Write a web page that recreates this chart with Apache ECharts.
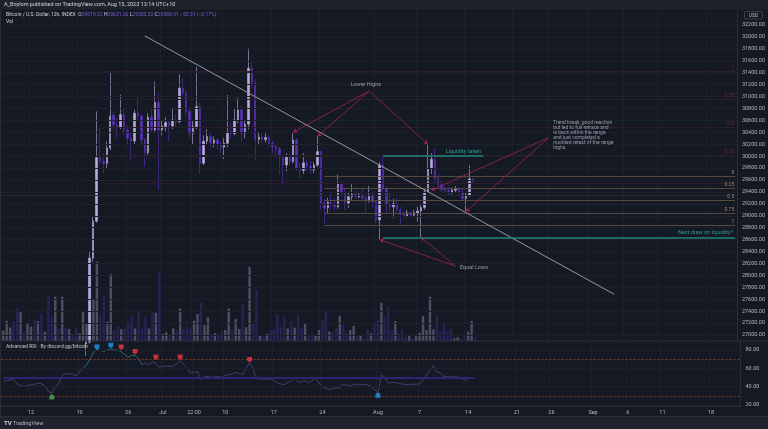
<!DOCTYPE html>
<html><head><meta charset="utf-8">
<script src="https://cdn.jsdelivr.net/npm/echarts@6/dist/echarts.min.js"></script>
<style>html,body{margin:0;padding:0;background:#151924;}#c{width:768px;height:429px;}</style>
</head><body><div id="c"></div>
<script>
// ---------- DATA ----------
// 12h candles (UTC) from 2023-06-08 00:00, [open, close, low, high]
const candles = [
[26500,26600,26300,26800],[26600,26650,26400,26780],[26650,26700,26550,26780],[26700,26500,26300,26790],
[26500,25700,25400,26550],[25700,25850,25600,25950],[25850,25780,25700,26000],[25780,25920,25750,26200],
[25920,25950,25750,26050],[25950,25900,25650,26000],[25900,26050,25850,26400],[26050,25900,25750,26150],
[25900,25950,25850,26100],[25950,25130,24900,26000],[25130,25050,24800,25250],[25050,25580,24950,25750],
[25580,25500,25350,25700],[25500,26330,25450,26470],[26330,26300,26200,26700],[26300,26510,26250,26750],
[26510,26480,26400,26650],[26480,26340,26250,26600],[26340,26500,26260,26600],[26500,26850,26450,26890],
[26850,26880,26650,26900],[26880,28290,26860,28400],[28290,28910,28230,28980],[28910,29975,28880,30750],
[29975,29910,29850,30470],[29910,29880,29713,30050],[29880,30138,29800,30250],[30138,30675,30100,31400],
[30690,30523,30450,30750],[30523,30480,30300,30650],[30480,30700,30450,31030],[30692,30440,30350,30800],
[30440,30300,30200,30520],[30300,30255,29920,30400],[30255,30720,30200,30780],[30720,30675,30600,31000],
[30675,30272,30200,30700],[30272,30060,29824,30300],[30060,30653,30020,30720],[30653,30440,30400,30800],
[30440,30898,30400,31250],[30898,30440,29433,31050],[30440,30507,30350,30600],[30496,30563,30420,30650],
[30563,30507,30250,30600],[30507,30608,30450,30800],[30608,30580,30500,30700],[30580,31139,30550,31374],
[31139,31055,31000,31300],[31055,30747,30650,31100],[30747,30384,30300,30800],[30384,30496,30200,30600],
[30496,30831,30450,31502],[30831,29881,29713,30900],[29881,30250,29850,30350],[30250,30328,30188,30450],
[30328,30220,30150,30380],[30220,30272,30150,30330],[30272,30188,30120,30300],[30188,30150,30050,30244],
[30150,30216,29950,30300],[30216,30395,30150,31027],[30395,30380,30300,30550],[30380,30608,30350,30800],
[30608,30775,30550,30980],[30775,30384,30250,30850],[30384,30536,30300,30600],[30536,31475,30450,31811],
[31475,31223,31150,31600],[31223,30280,29936,31300],[30280,30320,30200,30400],[30320,30280,30220,30380],
[30280,30311,30230,30380],[30311,30216,30150,30350],[30216,30160,30050,30260],[30160,30120,30000,30200],
[30120,29990,29685,30160],[29990,29853,29517,30020],[29853,29992,29750,30050],[29992,29908,29850,30050],
[29908,30272,29880,30400],[30272,29797,29750,30300],[29797,29760,29620,29900],[29760,29890,29700,30050],
[29890,29830,29750,29950],[29830,29770,29700,29920],[29770,29850,29720,29900],[29850,30076,29820,30330],
[30076,29210,29100,30100],[29210,29130,28860,29280],[29130,29230,29050,29300],[29230,29180,29100,29380],
[29180,29150,29080,29300],[29150,29540,29120,29690],[29540,29380,29330,29570],[29380,29210,29100,29450],
[29210,29320,29130,29380],[29320,29360,29250,29530],[29360,29320,29280,29420],[29320,29350,29290,29400],
[29350,29300,29250,29450],[29300,29270,29030,29330],[29270,29330,29220,29500],[29330,29230,29130,29380],
[29230,28930,28880,29260],[28930,29850,28600,29900],[29850,29450,29400,30010],[29450,29180,29050,29500],
[29180,29150,29080,29400],[29150,29200,28960,29280],[29200,29100,29050,29300],[29100,29020,28850,29150],
[29020,28990,28950,29080],[28990,29050,28970,29100],[29050,29010,28980,29080],[29010,29050,28990,29100],
[29050,29080,28900,29150],[29080,29140,28640,29200],[29140,29400,29100,29450],[29400,29800,29380,30200],
[29800,29950,29700,30050],[29950,29620,29550,30120],[29620,29520,29480,29700],[29520,29440,29400,29600],
[29440,29420,29380,29500],[29420,29400,29350,29480],[29400,29430,29360,29470],[29430,29450,29400,29500],
[29450,29400,29350,29480],[29400,29290,29250,29450],[29290,29350,29080,29400],[29350,29619,29320,29850],
[29619.22,29568.91,29553.32,29631.26]
];
const volumes = [31,61,41,60,98,90,30,55,43,63,60,83,28,136,73,133,38,133,40,36,21,38,23,91,52,200,125,238,80,135,58,201,33,45,36,40,57,75,38,93,38,75,38,90,85,208,21,26,15,38,31,98,38,43,38,61,81,115,48,71,21,23,21,28,33,98,36,66,36,111,41,223,53,153,15,15,21,31,35,81,43,73,38,58,40,78,38,53,18,23,15,33,63,93,28,28,38,76,48,25,33,45,15,15,8,35,23,58,63,115,73,103,35,60,21,33,11,15,8,18,25,75,33,133,35,78,28,56,28,38,8,11,5,18,28,60,13];
const rsi = [45.7,46.5,47.2,47.6,43,41,40.5,41.2,42,42.6,44,43.2,40.5,35,32.8,40.4,43,52.5,54,54,53.5,51.5,56.5,60,63.5,70,77.5,80.5,79.5,78.5,80,81.2,80.2,80,78,75,72,74,74.2,70,63.8,65.6,64,67,65.6,61,62.5,62.4,62.1,62.4,65,68.1,64,60.2,54.8,55.5,56.5,47.6,51,51.1,50.3,50.6,51,50,52,53,53.7,55.5,54.5,53,60,66,60,48.6,48.4,48.2,48.2,48.2,46.8,44.2,43,42.2,44.5,46.5,50,44.5,45.5,46.5,44,46.5,49.4,44,39.5,38.4,36.8,38,38.6,38.6,42.9,41.4,40.8,42.2,42.8,42.4,42.6,42,40.6,37,33.2,53,49,44,44.3,44.6,43.8,42.8,42.2,42.4,42.6,42.8,42.9,47.5,53,58,63,56,54.8,51.1,50.9,50.8,50.6,50.4,50,46.5,49.4,49.8,50];
const priceTicks = [27000,27200,27400,27600,27800,28000,28200,28400,28600,28800,29000,29200,29400,29600,29800,30000,30200,30400,30600,30800,31000,31200,31400,31600,31800,32000,32200];
const rsiTicks = [20,40,60,80];
const timeTicks = [["2023-06-12 00:00","12"],["2023-06-19 00:00","19"],["2023-06-26 00:00","26"],["2023-07-01 00:00","Jul"],["2023-07-05 12:00","22:00"],["2023-07-10 00:00","10"],["2023-07-17 00:00","17"],["2023-07-24 00:00","24"],["2023-08-01 00:00","Aug"],["2023-08-07 00:00","7"],["2023-08-14 00:00","14"],["2023-08-21 00:00","21"],["2023-08-26 00:00","26"],["2023-09-01 00:00","Sep"],["2023-09-06 00:00","6"],["2023-09-11 00:00","11"],["2023-09-18 00:00","18"]];
const lastCategory = "2023-09-22 00:00";
// drawings
const trendLine = [["2023-06-28 12:00",32017],["2023-09-04 12:00",27683]];
const lowerHighsApex = ["2023-07-31 00:00",31093];
const lowerHighsPoints = [["2023-07-20 00:00",30400],["2023-07-23 12:00",30330],["2023-08-08 12:00",30200]];
const lowerHighsText = ["2023-07-30 12:00",31194];
const equalLowsApex = ["2023-08-12 12:00",28157];
const equalLowsPoints = [["2023-08-01 12:00",28600],["2023-08-07 12:00",28640]];
const equalLowsText = ["2023-08-13 00:00",28124];
const trendBreakApex = ["2023-08-26 00:00",30310];
const trendBreakPoints = [["2023-08-09 00:00",29430],["2023-08-14 00:00",29068]];
const trendBreakText = ["2023-08-26 12:00",30358];
const liquidityTaken = [["2023-08-02 00:00",30008],["2023-08-16 12:00",30008]];
const equalLowsLevel = ["2023-08-02 00:00",28635.53];
const lowerRangeStart = "2023-07-24 12:00";
const lowerRange = [["0",29668],["0.25",29462],["0.5",29256],["0.75",29050],["1",28845]];
const upperRangeStart = "2023-06-22 12:00";
const upperRange = [["0",29545],["0.25",30010],["0.5",30480],["0.75",30950],["1",31420]];
const unknownLevel = 29348;
const lastPrice = 29568.91;
const rsiBullMarks = [["2023-06-15 00:00",29]];
const rsiObMarks = [["2023-06-21 12:00",83],["2023-06-23 12:00",85]];
const rsiBearMarks = [["2023-06-25 00:00",83],["2023-06-27 00:00",78],["2023-06-30 00:00",72],["2023-07-03 12:00",72],["2023-07-13 12:00",69.5]];
const rsiOsMarks = [["2023-08-01 00:00",31]];

// ---------- CHART ----------
const START = Date.UTC(2023,5,8,0,0), HALF = 12*3600*1000;
const categories = [];
for (let t = START; ; t += HALF) {
  const s = new Date(t).toISOString().slice(0,16).replace('T',' ');
  categories.push(s);
  if (s === lastCategory) break;
}
const tickMap = {}; timeTicks.forEach(([k,v]) => tickMap[k] = v);
const isTick = (i, v) => tickMap[v !== undefined ? v : categories[i]] !== undefined;

const UP = '#b9abdc', DOWN = '#5b31bd';
const VUP = '#4d4e60', VDOWN = '#2b2159';
const GRID = '#1c202b';
const TXT = '#b2b5be';
const MAROON = '#9e2357';
const TEAL = '#23857a';
const FONT = 'Roboto, "Liberation Sans", sans-serif';

const gl = {left: 1.5, width: 739};
const option = {
  backgroundColor: '#151924',
  animation: false,
  textStyle: {fontFamily: FONT},
  grid: [
    Object.assign({top: 10, height: 331}, gl),
    Object.assign({top: 241, height: 100}, gl),
    Object.assign({top: 341, height: 65}, gl)
  ],
  xAxis: [0,1,2].map(g => ({
    type: 'category', gridIndex: g, data: categories, boundaryGap: true,
    axisLine: {show: g === 2, lineStyle: {color: '#2a2e39'}},
    axisTick: {show: false},
    axisLabel: g === 2 ? {interval: isTick, formatter: v => tickMap[v] || '', color: TXT, fontSize: 5.5, margin: 4, fontFamily: FONT} : {show: false},
    splitLine: {show: g !== 1, interval: isTick, lineStyle: {color: GRID, width: 1}}
  })),
  yAxis: [
    {gridIndex: 0, position: 'right', min: 26899.4, max: 32451.6, scale: true,
     axisLine: {show: true, lineStyle: {color: '#2a2e39'}}, axisTick: {show: false},
     axisLabel: {customValues: priceTicks, formatter: v => v.toFixed(2), color: TXT, fontSize: 5.5, margin: 5, fontFamily: FONT},
     splitLine: {show: false}},
    {gridIndex: 1, min: 0, max: 300, show: false, splitLine: {show: false}},
    {gridIndex: 2, position: 'right', min: 18.91, max: 89.82,
     axisLine: {show: true, lineStyle: {color: '#2a2e39'}}, axisTick: {show: false},
     axisLabel: {customValues: rsiTicks, formatter: v => v.toFixed(2), color: TXT, fontSize: 5.5, margin: 5, fontFamily: FONT},
     splitLine: {show: false}}
  ],
  visualMap: [{
    show: false, type: 'piecewise', seriesIndex: 3, dimension: 0,
    pieces: [{gte: 23, lte: 40, color: '#2b7d7a'}], outOfRange: {color: '#4a4780'}
  }],
  series: []
};

const noLabel = {show: false};
function seg(a, b, color, width, arrow, type) {
  return [{coord: a, symbol: 'none', lineStyle: {color, width, type: type || 'solid'}},
          {coord: b, symbol: arrow ? 'arrow' : 'none', symbolSize: arrow ? 4 : 0}];
}

// 0: price grid lines + range levels
const gridLines = priceTicks.map(v => ({yAxis: v, lineStyle: {color: GRID, width: 1, type: 'solid'}, label: noLabel}));
gridLines.push({yAxis: unknownLevel, lineStyle: {color: '#1f2a2e', width: 1, type: 'solid'}, label: noLabel});
const rangeLines = [];
upperRange.forEach(([t, p]) => {
  const s = seg([upperRangeStart, p], [lastCategory, p], '#2c1f2b', 1, false);
  s[0].label = {show: t !== '0', position: 'insideEndTop', formatter: t, color: '#6e2a3a', fontSize: 5, distance: [1, 1], fontFamily: FONT};
  rangeLines.push(s);
});
lowerRange.forEach(([t, p]) => {
  const s = seg([lowerRangeStart, p], [lastCategory, p], '#564a40', 1, false);
  s[0].label = {show: true, position: 'insideEndTop', formatter: t, color: '#9a8a74', fontSize: 5, distance: [1, 1], fontFamily: FONT};
  rangeLines.push(s);
});
option.series.push({
  type: 'line', xAxisIndex: 0, yAxisIndex: 0, data: [], z: 1, silent: true,
  markLine: {silent: true, symbol: 'none', animation: false, label: noLabel, data: gridLines.concat(rangeLines)}
});

// 1: volume
option.series.push({
  type: 'bar', xAxisIndex: 1, yAxisIndex: 1, z: 2, barWidth: '70%', silent: true,
  data: volumes.map((v, i) => ({value: v, itemStyle: {color: candles[i][1] >= candles[i][0] ? VUP : VDOWN}}))
});

// 2: candles + drawings
const drawings = [];
drawings.push(seg(trendLine[0], trendLine[1], '#9598a1', 1, false));
lowerHighsPoints.forEach(p => drawings.push(seg(lowerHighsApex, p, MAROON, 0.8, true)));
equalLowsPoints.forEach(p => drawings.push(seg(equalLowsApex, p, MAROON, 0.8, true)));
trendBreakPoints.forEach(p => drawings.push(seg(trendBreakApex, p, MAROON, 0.8, true)));
const liq = seg(liquidityTaken[0], liquidityTaken[1], TEAL, 1.5, false);
liq[0].label = {show: true, position: 'insideEndTop', formatter: 'Liquidity taken', color: '#2a9d8f', fontSize: 5.5, distance: [2, 1.5], fontFamily: FONT};
drawings.push(liq);
const eql = seg(equalLowsLevel, [lastCategory, equalLowsLevel[1]], TEAL, 1.5, false);
eql[0].label = {show: true, position: 'insideEndTop', formatter: 'Next draw on liquidity?', color: '#2a9d8f', fontSize: 5.5, distance: [2, 2], fontFamily: FONT};
drawings.push(eql);
drawings.push({yAxis: equalLowsLevel[1], lineStyle: {opacity: 0},
  label: {show: true, position: 'end', formatter: equalLowsLevel[1].toFixed(2), color: '#ffffff', backgroundColor: '#1f9483', padding: [1.5, 2, 1, 2], fontSize: 5.5, distance: 1, fontFamily: FONT}});
drawings.push({yAxis: lastPrice, lineStyle: {opacity: 0},
  label: {show: true, position: 'end', formatter: lastPrice.toFixed(2) + '\n08:45:51', color: '#ffffff', backgroundColor: '#2a9a47', padding: [1, 2, 1, 2], lineHeight: 5.5, fontSize: 5.5, distance: 1, fontFamily: FONT}});

option.series.push({
  type: 'candlestick', xAxisIndex: 0, yAxisIndex: 0, z: 3, clip: true, barWidth: '56%', silent: true,
  data: candles,
  itemStyle: {color: UP, color0: DOWN, borderColor: UP, borderColor0: DOWN, borderWidth: 0.6},
  markLine: {silent: true, symbol: 'none', animation: false, label: noLabel, data: drawings}
});

// 3: RSI
const rsiLines = rsiTicks.map(v => ({yAxis: v, lineStyle: {color: GRID, width: 1, type: 'solid'}, label: noLabel}));
rsiLines.push({yAxis: 70, lineStyle: {color: '#8a3a1d', width: 1, type: [2, 2]}, label: noLabel});
rsiLines.push({yAxis: 30, lineStyle: {color: '#8a3a1d', width: 1, type: [2, 2]}, label: noLabel});
rsiLines.push(seg([categories[0], 50], [categories[rsi.length - 1], 50], '#2c2672', 2, false));
option.series.push({
  type: 'line', xAxisIndex: 2, yAxisIndex: 2, data: rsi, z: 3, showSymbol: false, silent: true,
  lineStyle: {width: 0.8},
  markLine: {silent: true, symbol: 'none', animation: false, label: noLabel, data: rsiLines}
});

// 4-7: RSI markers
const DOWN_PIN = 'path://M0,0 L10,0 L10,7 L5,11 L0,7 Z';
const UP_PIN = 'path://M0,4 L5,0 L10,4 L10,11 L0,11 Z';
[[rsiBullMarks, UP_PIN, '#4caf50'], [rsiObMarks, DOWN_PIN, '#2196f3'], [rsiBearMarks, DOWN_PIN, '#f23645'], [rsiOsMarks, UP_PIN, '#2196f3']].forEach(([d, sym, col]) => {
  option.series.push({type: 'scatter', xAxisIndex: 2, yAxisIndex: 2, z: 6, silent: true, data: d, symbol: sym, symbolSize: [5, 5.5], itemStyle: {color: col}});
});

// 8: annotation texts
option.series.push({
  type: 'scatter', xAxisIndex: 0, yAxisIndex: 0, z: 6, silent: true, symbolSize: 0,
  data: [
    {value: lowerHighsText, label: {show: true, position: 'inside', formatter: 'Lower Highs', color: '#b8bcc8', fontSize: 5.5, fontFamily: FONT}},
    {value: equalLowsText, label: {show: true, position: 'right', distance: 1, formatter: 'Equal Lows', color: '#b8bcc8', fontSize: 5.5, fontFamily: FONT}},
    {value: trendBreakText, label: {show: true, position: 'right', distance: 1, align: 'left', lineHeight: 5, fontSize: 5, color: '#b8bcc8', fontFamily: FONT,
      formatter: 'Trend break, good reaction\nbut led to full retrace and\nis back within the range\nand just completed a\nrounded retest of the range\nhighs.'}}
  ]
});

option.graphic = [
  {type: 'rect', shape: {x: 0, y: 0, width: 768, height: 9.5}, style: {fill: '#1e222d'}, z: 100, silent: true},
  {type: 'rect', shape: {x: 0, y: 417, width: 768, height: 12}, style: {fill: '#1e222d'}, z: 100, silent: true},
  {type: 'line', shape: {x1: 0, y1: 341, x2: 768, y2: 341}, style: {stroke: '#2a2e39', lineWidth: 1}, z: 100, silent: true},
  {type: 'line', shape: {x1: 0, y1: 416.5, x2: 768, y2: 416.5}, style: {stroke: '#2a2e39', lineWidth: 1}, z: 100, silent: true},
  {type: 'line', shape: {x1: 0.5, y1: 9.5, x2: 0.5, y2: 417}, style: {stroke: '#2a2e39', lineWidth: 1}, z: 100, silent: true},
  {type: 'text', x: 4, y: 2, style: {text: 'A_Boylom published on TradingView.com, Aug 15, 2023 13:14 UTC+10', fill: '#d1d4dc', font: '5.5px ' + FONT}, z: 101, silent: true},
  {type: 'text', x: 6, y: 12.5, style: {
    text: '{t|Bitcoin / U.S. Dollar, 12h, INDEX}  {k|O}{v|29619.22} {k|H}{v|29631.26} {k|L}{v|29553.32} {k|C}{v|29568.91} {v|\u221250.31 (\u22120.17%)}',
    font: '5px ' + FONT,
    rich: {t: {fill: '#d1d4dc', font: '5px ' + FONT}, k: {fill: '#d1d4dc', font: '5px ' + FONT}, v: {fill: '#7b5cd6', font: '5px ' + FONT}}
  }, z: 101, silent: true},
  {type: 'text', x: 6, y: 19.5, style: {text: 'Vol', fill: '#d1d4dc', font: '5px ' + FONT}, z: 101, silent: true},
  {type: 'text', x: 6, y: 344.5, style: {text: 'Advanced RSI \u00b7 By discord.gg/bitcoin', fill: '#c3c6ce', font: '5px ' + FONT}, z: 101, silent: true},
  {type: 'rect', shape: {x: 744.5, y: 11.5, width: 18, height: 7.5, r: 1}, style: {fill: '#151924', stroke: '#434651', lineWidth: 0.8}, z: 101, silent: true},
  {type: 'text', x: 753.5, y: 13, style: {text: 'USD', fill: TXT, font: '5px ' + FONT, textAlign: 'center'}, z: 102, silent: true},
  {type: 'text', x: 4, y: 420, style: {text: 'TV', fill: '#d1d4dc', font: 'bold 6px ' + FONT}, z: 101, silent: true},
  {type: 'text', x: 13, y: 420.5, style: {text: 'TradingView', fill: '#b2b5be', font: '5.5px ' + FONT}, z: 101, silent: true}
];

const chart = echarts.init(document.getElementById('c'), null, {renderer: 'canvas'});
chart.setOption(option);
</script>
</body></html>
